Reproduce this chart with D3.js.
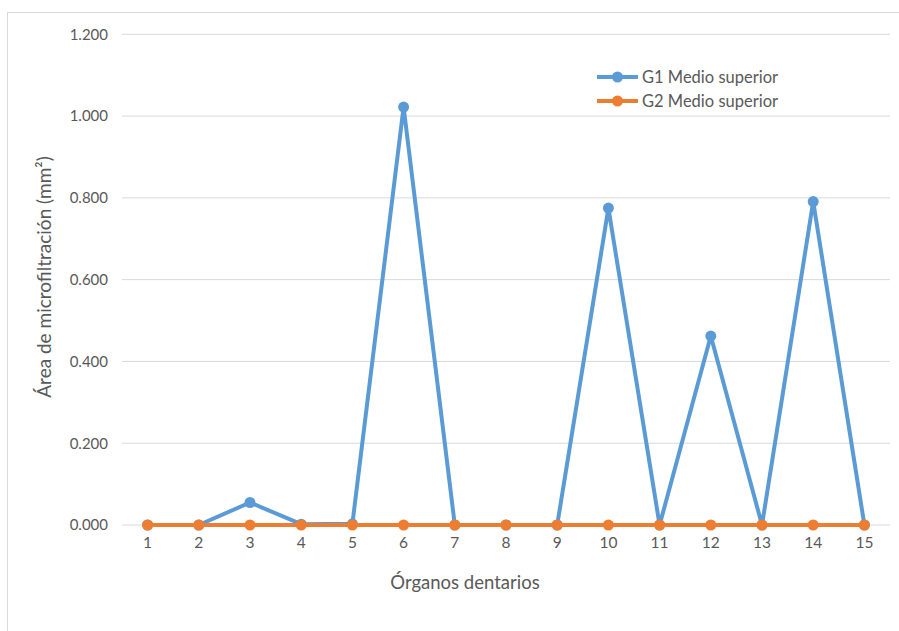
<!DOCTYPE html>
<html>
<head>
<meta charset="utf-8">
<script src="https://cdn.jsdelivr.net/npm/d3@7"></script>
<style>
  html, body { margin: 0; padding: 0; background: #ffffff; }
  svg { display: block; font-family: Lato, "Open Sans", sans-serif; }
</style>
</head>
<body>
<svg id="chart" width="899" height="631"></svg>
<script>
// Teeth (órganos dentarios) numbered 1..15
const categories = ["1","2","3","4","5","6","7","8","9","10","11","12","13","14","15"];
// Microleakage area (mm²) per tooth, upper middle third
const g1Values = [0, 0, 0.055, 0.002, 0.003, 1.022, 0, 0, 0, 0.775, 0, 0.462, 0, 0.791, 0];
const g2Values = [0, 0, 0, 0, 0, 0, 0, 0, 0, 0, 0, 0, 0, 0, 0];
const seriesNames = ["G1 Medio superior", "G2 Medio superior"];
const yTicks = [0, 0.2, 0.4, 0.6, 0.8, 1.0, 1.2];
const yTickLabels = ["0.000", "0.200", "0.400", "0.600", "0.800", "1.000", "1.200"];

const colors = ["#5B9BD5", "#ED7D31"];
const series = [
  { name: seriesNames[0], values: g1Values, color: colors[0] },
  { name: seriesNames[1], values: g2Values, color: colors[1] }
];

const svg = d3.select("#chart");
const textColor = "#595959";

// outer chart frame
svg.append("rect")
  .attr("x", 7.5).attr("y", 12.5)
  .attr("width", 899).attr("height", 640)
  .attr("fill", "none").attr("stroke", "#d9d9d9").attr("stroke-width", 1);

const plot = { left: 122, right: 890, top: 34.3, bottom: 525 };

const x = d3.scaleBand().domain(categories).range([plot.left, plot.right]);
const y = d3.scaleLinear().domain([0, 1.2]).range([plot.bottom, plot.top]);

// horizontal gridlines
svg.append("g")
  .selectAll("line")
  .data(yTicks)
  .join("line")
  .attr("x1", plot.left).attr("x2", plot.right)
  .attr("y1", d => y(d)).attr("y2", d => y(d))
  .attr("stroke", "#d9d9d9").attr("stroke-width", 1);

// y-axis tick labels
const yAxis = d3.axisLeft(y)
  .tickValues(yTicks)
  .tickFormat((d, i) => yTickLabels[i])
  .tickSize(0)
  .tickPadding(14);
const yg = svg.append("g").attr("transform", `translate(${plot.left},0)`).call(yAxis);
yg.select(".domain").remove();
yg.selectAll("text").attr("fill", textColor).style("font-size", "15px").style("font-family", "Lato, sans-serif");

// x-axis tick labels
const xAxis = d3.axisBottom(x).tickSize(0).tickPadding(12);
const xg = svg.append("g").attr("transform", `translate(0,${plot.bottom})`).call(xAxis);
xg.select(".domain").remove();
xg.selectAll("text").attr("fill", textColor).style("font-size", "15.5px").style("font-family", "Lato, sans-serif");

// axis titles
svg.append("text")
  .attr("x", 465).attr("y", 589)
  .attr("text-anchor", "middle")
  .attr("fill", textColor)
  .style("font-size", "18.5px")
  .text("Órganos dentarios");

svg.append("text")
  .attr("transform", "translate(51,277) rotate(-90)")
  .attr("text-anchor", "middle")
  .attr("fill", textColor)
  .style("font-size", "19px")
  .text("Área de microfiltración (mm²)");

const cx = d => x(d) + x.bandwidth() / 2;
const line = d3.line()
  .x((v, i) => cx(categories[i]))
  .y(v => y(v));

// series lines and markers
series.forEach(s => {
  const g = svg.append("g");
  g.append("path")
    .datum(s.values)
    .attr("d", line)
    .attr("fill", "none")
    .attr("stroke", s.color)
    .attr("stroke-width", 4)
    .attr("stroke-linejoin", "round");
  g.selectAll("circle")
    .data(s.values)
    .join("circle")
    .attr("cx", (v, i) => cx(categories[i]))
    .attr("cy", v => y(v))
    .attr("r", 5.5)
    .attr("fill", s.color);
});

// legend
const legend = svg.append("g");
series.forEach((s, i) => {
  const ly = 77 + i * 24;
  legend.append("line")
    .attr("x1", 597).attr("x2", 638)
    .attr("y1", ly).attr("y2", ly)
    .attr("stroke", s.color).attr("stroke-width", 4);
  legend.append("circle")
    .attr("cx", 617.5).attr("cy", ly).attr("r", 5.5)
    .attr("fill", s.color);
  legend.append("text")
    .attr("x", 642).attr("y", ly + 5.5)
    .attr("fill", textColor)
    .style("font-size", "16.5px")
    .text(s.name);
});
</script>
</body>
</html>
